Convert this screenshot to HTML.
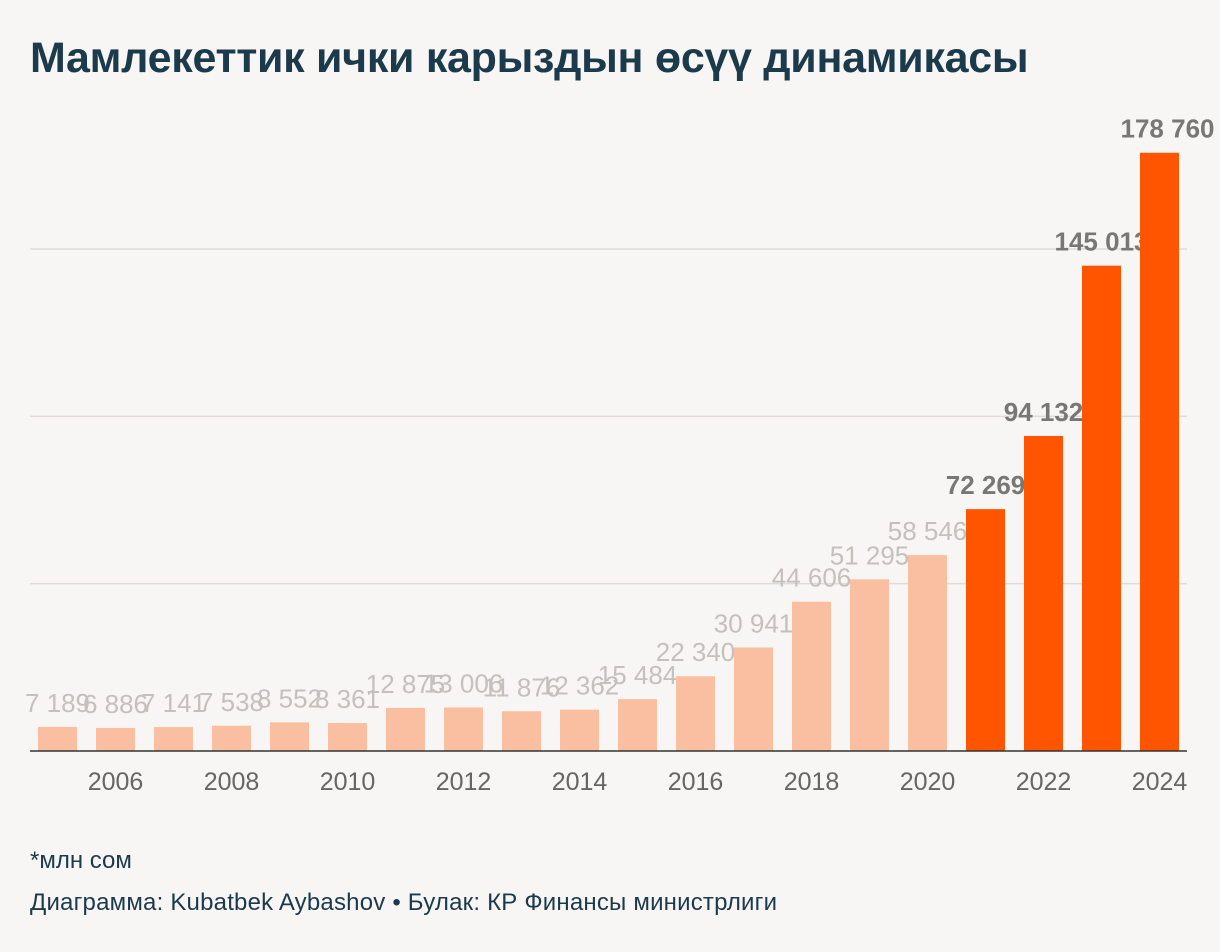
<!DOCTYPE html>
<html><head><meta charset="utf-8"><style>
html,body{margin:0;padding:0;background:#f8f6f4;}
body{width:1220px;height:952px;position:relative;overflow:hidden;font-family:"Liberation Sans",sans-serif;}
#title{position:absolute;left:30px;top:34px;font-size:43px;font-weight:bold;color:#1b3a4b;letter-spacing:-0.3px;}
#note{position:absolute;left:30px;top:847px;font-size:24px;color:#1b3a4b;}
#credit{position:absolute;left:30px;top:889px;font-size:24px;color:#1b3a4b;letter-spacing:0.2px;}
</style></head><body>
<div id="title">Мамлекеттик ички карыздын өсүү динамикасы</div>
<svg id="chart" width="1220" height="952" style="position:absolute;left:0;top:0"></svg>
<div id="note">*млн сом</div>
<div id="credit">Диаграмма: Kubatbek Aybashov • Булак: КР Финансы министрлиги</div>
<script>
const years=[2005,2006,2007,2008,2009,2010,2011,2012,2013,2014,2015,2016,2017,2018,2019,2020,2021,2022,2023,2024];
const values=[7189,6886,7141,7538,8552,8361,12875,13006,11876,12362,15484,22340,30941,44606,51295,58546,72269,94132,145013,178760];
const labels=["7 189","6 886","7 141","7 538","8 552","8 361","12 875","13 006","11 876","12 362","15 484","22 340","30 941","44 606","51 295","58 546","72 269","94 132","145 013","178 760"];
const gridVals=[50000,100000,150000];
const tickYears=[2006,2008,2010,2012,2014,2016,2018,2020,2022,2024];
const NS="http://www.w3.org/2000/svg";
const svg=document.getElementById('chart');
const base=751,pxPer=502/150000,x0=38,step=58,bw=39;
const y=v=>base-v*pxPer;
const x=yr=>x0+(yr-2005)*step;
function mk(t,a){const e=document.createElementNS(NS,t);for(const k in a)e.setAttribute(k,a[k]);svg.appendChild(e);return e;}
gridVals.forEach(g=>{
 const l=mk('line',{x1:30,x2:1187,y1:y(g),y2:y(g),stroke:'#dedbd8','stroke-width':1.5});
 
 
});
years.forEach((yr,i)=>{
 const hi=yr>=2021;
 const r=mk('rect',{x:x(yr),y:y(values[i]),width:bw,height:base-y(values[i]),fill:hi?'#ff5500':'#f9bfa0'});
 
 
 const t=mk('text',{x:x(yr)+bw/2+(yr==2024?8:0),y:y(values[i])-15,'text-anchor':'middle','font-size':26,fill:hi?'#777':'#c4c0bc','font-weight':hi?'bold':'normal','font-family':'Liberation Sans, sans-serif'});
 t.textContent=labels[i];
 
 
});
const ax=mk('line',{x1:30,x2:1187,y1:base,y2:base,stroke:'#333','stroke-width':1.5});


tickYears.forEach(yr=>{
 const t=mk('text',{x:x(yr)+bw/2,y:790,'text-anchor':'middle','font-size':25,fill:'#666','font-family':'Liberation Sans, sans-serif'});
 t.textContent=yr;
 
 
});
</script>
</body></html>
